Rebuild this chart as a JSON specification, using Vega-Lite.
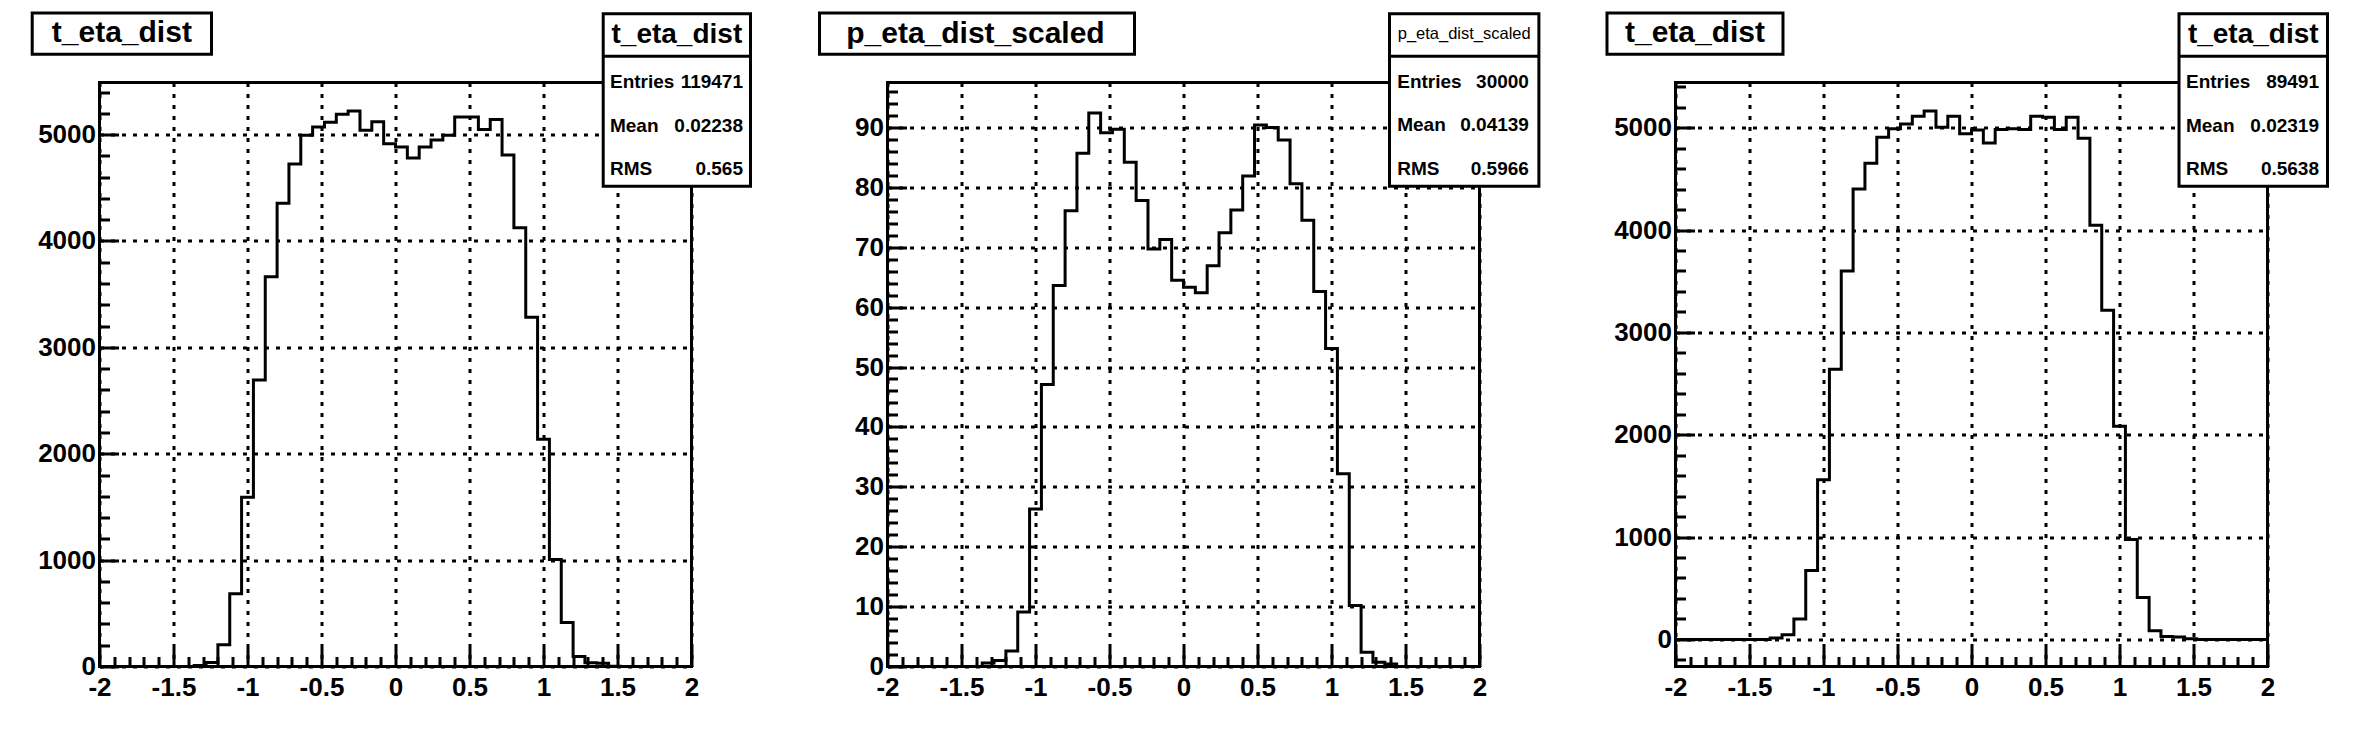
{
  "$schema": "https://vega.github.io/schema/vega-lite/v6.json",
  "background": "white",
  "padding": {"left": 28.5, "top": 9.5, "right": 5, "bottom": 5},
  "config": {
    "view": {"stroke": "black", "strokeWidth": 3},
    "font": "Liberation Sans"
  },
  "datasets": {
    "h1": [
      {"lo": -2, "n": 0}, {"lo": -1.92, "n": 0}, {"lo": -1.84, "n": 0}, {"lo": -1.76, "n": 0}, {"lo": -1.68, "n": 0},
      {"lo": -1.6, "n": 0}, {"lo": -1.52, "n": 0}, {"lo": -1.44, "n": 0}, {"lo": -1.36, "n": 10}, {"lo": -1.28, "n": 38},
      {"lo": -1.2, "n": 205}, {"lo": -1.12, "n": 684}, {"lo": -1.04, "n": 1590}, {"lo": -0.96, "n": 2694}, {"lo": -0.88, "n": 3664},
      {"lo": -0.8, "n": 4356}, {"lo": -0.72, "n": 4723}, {"lo": -0.64, "n": 4995}, {"lo": -0.56, "n": 5071}, {"lo": -0.48, "n": 5116},
      {"lo": -0.4, "n": 5192}, {"lo": -0.32, "n": 5223}, {"lo": -0.24, "n": 5040}, {"lo": -0.16, "n": 5120}, {"lo": -0.08, "n": 4915},
      {"lo": 0, "n": 4884}, {"lo": 0.08, "n": 4781}, {"lo": 0.16, "n": 4884}, {"lo": 0.24, "n": 4950}, {"lo": 0.32, "n": 4995},
      {"lo": 0.4, "n": 5165}, {"lo": 0.48, "n": 5165}, {"lo": 0.56, "n": 5049}, {"lo": 0.64, "n": 5143}, {"lo": 0.72, "n": 4808},
      {"lo": 0.8, "n": 4124}, {"lo": 0.88, "n": 3284}, {"lo": 0.96, "n": 2136}, {"lo": 1.04, "n": 1005}, {"lo": 1.12, "n": 414},
      {"lo": 1.2, "n": 94}, {"lo": 1.28, "n": 35}, {"lo": 1.36, "n": 30}, {"lo": 1.44, "n": 3}, {"lo": 1.52, "n": 0},
      {"lo": 1.6, "n": 0}, {"lo": 1.68, "n": 0}, {"lo": 1.76, "n": 0}, {"lo": 1.84, "n": 0}, {"lo": 1.92, "n": 0},
      {"lo": 2, "n": 0}
    ],
    "h2": [
      {"lo": -2, "n": 0}, {"lo": -1.92, "n": 0}, {"lo": -1.84, "n": 0}, {"lo": -1.76, "n": 0}, {"lo": -1.68, "n": 0},
      {"lo": -1.6, "n": 0}, {"lo": -1.52, "n": 0}, {"lo": -1.44, "n": 0}, {"lo": -1.36, "n": 0.6}, {"lo": -1.28, "n": 1.0},
      {"lo": -1.2, "n": 2.6}, {"lo": -1.12, "n": 9.1}, {"lo": -1.04, "n": 26.3}, {"lo": -0.96, "n": 47.1}, {"lo": -0.88, "n": 63.6},
      {"lo": -0.8, "n": 76.1}, {"lo": -0.72, "n": 85.7}, {"lo": -0.64, "n": 92.4}, {"lo": -0.56, "n": 89.1}, {"lo": -0.48, "n": 89.7},
      {"lo": -0.4, "n": 84.2}, {"lo": -0.32, "n": 77.8}, {"lo": -0.24, "n": 69.7}, {"lo": -0.16, "n": 71.3}, {"lo": -0.08, "n": 64.5},
      {"lo": 0, "n": 63.3}, {"lo": 0.08, "n": 62.4}, {"lo": 0.16, "n": 66.9}, {"lo": 0.24, "n": 72.4}, {"lo": 0.32, "n": 76.2},
      {"lo": 0.4, "n": 81.9}, {"lo": 0.48, "n": 90.4}, {"lo": 0.56, "n": 90.0}, {"lo": 0.64, "n": 87.9}, {"lo": 0.72, "n": 80.6},
      {"lo": 0.8, "n": 74.5}, {"lo": 0.88, "n": 62.6}, {"lo": 0.96, "n": 53.1}, {"lo": 1.04, "n": 32.2}, {"lo": 1.12, "n": 10.2},
      {"lo": 1.2, "n": 2.4}, {"lo": 1.28, "n": 0.7}, {"lo": 1.36, "n": 0.4}, {"lo": 1.44, "n": 0}, {"lo": 1.52, "n": 0},
      {"lo": 1.6, "n": 0}, {"lo": 1.68, "n": 0}, {"lo": 1.76, "n": 0}, {"lo": 1.84, "n": 0}, {"lo": 1.92, "n": 0},
      {"lo": 2, "n": 0}
    ],
    "h3": [
      {"lo": -2, "n": 0}, {"lo": -1.92, "n": 0}, {"lo": -1.84, "n": 0}, {"lo": -1.76, "n": 0}, {"lo": -1.68, "n": 0},
      {"lo": -1.6, "n": 0}, {"lo": -1.52, "n": 0}, {"lo": -1.44, "n": 0}, {"lo": -1.36, "n": 13}, {"lo": -1.28, "n": 45},
      {"lo": -1.2, "n": 200}, {"lo": -1.12, "n": 672}, {"lo": -1.04, "n": 1561}, {"lo": -0.96, "n": 2640}, {"lo": -0.88, "n": 3601},
      {"lo": -0.8, "n": 4401}, {"lo": -0.72, "n": 4652}, {"lo": -0.64, "n": 4907}, {"lo": -0.56, "n": 4991}, {"lo": -0.48, "n": 5037},
      {"lo": -0.4, "n": 5112}, {"lo": -0.32, "n": 5163}, {"lo": -0.24, "n": 5005}, {"lo": -0.16, "n": 5112}, {"lo": -0.08, "n": 4940},
      {"lo": 0, "n": 4977}, {"lo": 0.08, "n": 4851}, {"lo": 0.16, "n": 4982}, {"lo": 0.24, "n": 4991}, {"lo": 0.32, "n": 4982},
      {"lo": 0.4, "n": 5112}, {"lo": 0.48, "n": 5102}, {"lo": 0.56, "n": 4982}, {"lo": 0.64, "n": 5102}, {"lo": 0.72, "n": 4898},
      {"lo": 0.8, "n": 4048}, {"lo": 0.88, "n": 3216}, {"lo": 0.96, "n": 2082}, {"lo": 1.04, "n": 976}, {"lo": 1.12, "n": 409},
      {"lo": 1.2, "n": 84}, {"lo": 1.28, "n": 28}, {"lo": 1.36, "n": 23}, {"lo": 1.44, "n": 5}, {"lo": 1.52, "n": 0},
      {"lo": 1.6, "n": 0}, {"lo": 1.68, "n": 0}, {"lo": 1.76, "n": 0}, {"lo": 1.84, "n": 0}, {"lo": 1.92, "n": 0},
      {"lo": 2, "n": 0}
    ],
    "one": [{}]
  },
  "hconcat": [
    {
      "width": 592, "height": 584,
      "resolve": {"scale": {"x": "independent", "y": "independent"}},
      "layer": [
        {
          "data": {"name": "h1"},
          "mark": {"type": "line", "interpolate": "step-after", "stroke": "black", "strokeWidth": 3},
          "encoding": {
            "x": {"field": "lo", "type": "quantitative", "scale": {"domain": [-2, 2], "nice": false, "zero": false},
              "axis": {"title": null, "domain": false, "values": [-2,-1.9,-1.8,-1.7,-1.6,-1.5,-1.4,-1.3,-1.2,-1.1,-1,-0.9,-0.8,-0.7,-0.6,-0.5,-0.4,-0.3,-0.2,-0.1,0,0.1,0.2,0.3,0.4,0.5,0.6,0.7,0.8,0.9,1,1.1,1.2,1.3,1.4,1.5,1.6,1.7,1.8,1.9,2],
                "labelExpr": "abs(datum.value*2 - round(datum.value*2)) < 0.001 ? toString(datum.value) : ''",
                "tickSize": {"condition": {"test": "abs(datum.value*2 - round(datum.value*2)) < 0.001", "value": -19}, "value": -10},
                "tickColor": "black", "tickWidth": 3,
                "grid": true, "gridColor": "black", "gridDash": [4, 7], "gridWidth": 3,
                "gridOpacity": {"condition": {"test": "abs(datum.value*2 - round(datum.value*2)) < 0.001", "value": 1}, "value": 0},
                "labelFont": "Liberation Sans", "labelFontWeight": "bold", "labelFontSize": 26, "labelColor": "black",
                "labelPadding": 27, "labelFlush": false, "labelOverlap": false, "labelBound": false}},
            "y": {"field": "n", "type": "quantitative", "scale": {"domain": [0, 5490], "nice": false, "zero": false},
              "axis": {"title": null, "domain": false, "values": [0,200,400,600,800,1000,1200,1400,1600,1800,2000,2200,2400,2600,2800,3000,3200,3400,3600,3800,4000,4200,4400,4600,4800,5000,5200,5400],
                "labelExpr": "datum.value % 1000 == 0 ? toString(datum.value) : ''",
                "tickSize": {"condition": {"test": "datum.value % 1000 == 0", "value": -19}, "value": -10},
                "tickColor": "black", "tickWidth": 3,
                "grid": true, "gridColor": "black", "gridDash": [4, 7], "gridWidth": 3,
                "gridOpacity": {"condition": {"test": "datum.value % 1000 == 0", "value": 1}, "value": 0},
                "labelFont": "Liberation Sans", "labelFontWeight": "bold", "labelFontSize": 26, "labelColor": "black",
                "labelPadding": 23, "labelOverlap": false, "labelBound": false}}
          }
        },
        {
          "data": {"name": "one"},
          "layer": [
            {"mark": {"type": "rect", "fill": "white", "stroke": "black", "strokeWidth": 3},
             "encoding": {
               "x": {"datum": 0.03809, "type": "quantitative", "scale": {"domain": [0.12353, 0.87511], "nice": false, "zero": false}, "axis": null},
               "x2": {"datum": 0.26572},
               "y": {"datum": 0.98525, "type": "quantitative", "scale": {"domain": [0.10925, 0.89209], "nice": false, "zero": false}, "axis": null},
               "y2": {"datum": 0.92989}}},
            {"mark": {"type": "text", "font": "Liberation Sans", "fontWeight": "bold", "fontSize": 30, "align": "center", "baseline": "alphabetic", "color": "black"},
             "encoding": {"x": {"datum": 0.1519, "type": "quantitative"}, "y": {"datum": 0.94571, "type": "quantitative"}, "text": {"value": "t_eta_dist"}}},
            {"mark": {"type": "rect", "fill": "white", "stroke": "black", "strokeWidth": 3},
             "encoding": {"x": {"datum": 0.76301, "type": "quantitative"}, "x2": {"datum": 0.95002}, "y": {"datum": 0.98432, "type": "quantitative"}, "y2": {"datum": 0.75295}}},
            {"mark": {"type": "rule", "stroke": "black", "strokeWidth": 3},
             "encoding": {"x": {"datum": 0.76301, "type": "quantitative"}, "x2": {"datum": 0.95002}, "y": {"datum": 0.92721, "type": "quantitative"}}},
            {"mark": {"type": "text", "font": "Liberation Sans", "fontWeight": "bold", "fontSize": 28, "align": "center", "baseline": "alphabetic", "color": "black"},
             "encoding": {"x": {"datum": 0.85652, "type": "quantitative"}, "y": {"datum": 0.94544, "type": "quantitative"}, "text": {"value": "t_eta_dist"}}},
            {"mark": {"type": "text", "font": "Liberation Sans", "fontWeight": "bold", "fontSize": 19, "align": "left", "baseline": "alphabetic", "lineHeight": 43.6, "color": "black"},
             "encoding": {"x": {"datum": 0.7716, "type": "quantitative"}, "y": {"datum": 0.88472, "type": "quantitative"}, "text": {"value": ["Entries", "Mean", "RMS"]}}},
            {"mark": {"type": "text", "font": "Liberation Sans", "fontWeight": "bold", "fontSize": 19, "align": "right", "baseline": "alphabetic", "lineHeight": 43.6, "color": "black"},
             "encoding": {"x": {"datum": 0.9405, "type": "quantitative"}, "y": {"datum": 0.88472, "type": "quantitative"}, "text": {"value": ["119471", "0.02238", "0.565"]}}}
          ]
        }
      ]
    },
    {
      "width": 592, "height": 584,
      "resolve": {"scale": {"x": "independent", "y": "independent"}},
      "layer": [
        {
          "data": {"name": "h2"},
          "mark": {"type": "line", "interpolate": "step-after", "stroke": "black", "strokeWidth": 3},
          "encoding": {
            "x": {"field": "lo", "type": "quantitative", "scale": {"domain": [-2, 2], "nice": false, "zero": false},
              "axis": {"title": null, "domain": false, "values": [-2,-1.9,-1.8,-1.7,-1.6,-1.5,-1.4,-1.3,-1.2,-1.1,-1,-0.9,-0.8,-0.7,-0.6,-0.5,-0.4,-0.3,-0.2,-0.1,0,0.1,0.2,0.3,0.4,0.5,0.6,0.7,0.8,0.9,1,1.1,1.2,1.3,1.4,1.5,1.6,1.7,1.8,1.9,2],
                "labelExpr": "abs(datum.value*2 - round(datum.value*2)) < 0.001 ? toString(datum.value) : ''",
                "tickSize": {"condition": {"test": "abs(datum.value*2 - round(datum.value*2)) < 0.001", "value": -19}, "value": -10},
                "tickColor": "black", "tickWidth": 3,
                "grid": true, "gridColor": "black", "gridDash": [4, 7], "gridWidth": 3,
                "gridOpacity": {"condition": {"test": "abs(datum.value*2 - round(datum.value*2)) < 0.001", "value": 1}, "value": 0},
                "labelFont": "Liberation Sans", "labelFontWeight": "bold", "labelFontSize": 26, "labelColor": "black",
                "labelPadding": 27, "labelFlush": false, "labelOverlap": false, "labelBound": false}},
            "y": {"field": "n", "type": "quantitative", "scale": {"domain": [0, 97.5], "nice": false, "zero": false},
              "axis": {"title": null, "domain": false, "values": [0,2,4,6,8,10,12,14,16,18,20,22,24,26,28,30,32,34,36,38,40,42,44,46,48,50,52,54,56,58,60,62,64,66,68,70,72,74,76,78,80,82,84,86,88,90,92,94,96],
                "labelExpr": "datum.value % 10 == 0 ? toString(datum.value) : ''",
                "tickSize": {"condition": {"test": "datum.value % 10 == 0", "value": -19}, "value": -10},
                "tickColor": "black", "tickWidth": 3,
                "grid": true, "gridColor": "black", "gridDash": [4, 7], "gridWidth": 3,
                "gridOpacity": {"condition": {"test": "datum.value % 10 == 0", "value": 1}, "value": 0},
                "labelFont": "Liberation Sans", "labelFontWeight": "bold", "labelFontSize": 26, "labelColor": "black",
                "labelPadding": 23, "labelOverlap": false, "labelBound": false}}
          }
        },
        {
          "data": {"name": "one"},
          "layer": [
            {"mark": {"type": "rect", "fill": "white", "stroke": "black", "strokeWidth": 3},
             "encoding": {
               "x": {"datum": 0.0372, "type": "quantitative", "scale": {"domain": [0.12353, 0.87511], "nice": false, "zero": false}, "axis": null},
               "x2": {"datum": 0.43711},
               "y": {"datum": 0.98525, "type": "quantitative", "scale": {"domain": [0.10925, 0.89209], "nice": false, "zero": false}, "axis": null},
               "y2": {"datum": 0.92989}}},
            {"mark": {"type": "text", "font": "Liberation Sans", "fontWeight": "bold", "fontSize": 30, "align": "center", "baseline": "alphabetic", "color": "black"},
             "encoding": {"x": {"datum": 0.2352, "type": "quantitative"}, "y": {"datum": 0.94504, "type": "quantitative"}, "text": {"value": "p_eta_dist_scaled"}}},
            {"mark": {"type": "rect", "fill": "white", "stroke": "black", "strokeWidth": 3},
             "encoding": {"x": {"datum": 0.76085, "type": "quantitative"}, "x2": {"datum": 0.95052}, "y": {"datum": 0.98432, "type": "quantitative"}, "y2": {"datum": 0.75295}}},
            {"mark": {"type": "rule", "stroke": "black", "strokeWidth": 3},
             "encoding": {"x": {"datum": 0.76085, "type": "quantitative"}, "x2": {"datum": 0.95052}, "y": {"datum": 0.92721, "type": "quantitative"}}},
            {"mark": {"type": "text", "font": "Liberation Sans", "fontSize": 16.5, "align": "center", "baseline": "alphabetic", "color": "black"},
             "encoding": {"x": {"datum": 0.85569, "type": "quantitative"}, "y": {"datum": 0.95, "type": "quantitative"}, "text": {"value": "p_eta_dist_scaled"}}},
            {"mark": {"type": "text", "font": "Liberation Sans", "fontWeight": "bold", "fontSize": 19, "align": "left", "baseline": "alphabetic", "lineHeight": 43.3, "color": "black"},
             "encoding": {"x": {"datum": 0.77063, "type": "quantitative"}, "y": {"datum": 0.88472, "type": "quantitative"}, "text": {"value": ["Entries", "Mean", "RMS"]}}},
            {"mark": {"type": "text", "font": "Liberation Sans", "fontWeight": "bold", "fontSize": 19, "align": "right", "baseline": "alphabetic", "lineHeight": 43.3, "color": "black"},
             "encoding": {"x": {"datum": 0.93783, "type": "quantitative"}, "y": {"datum": 0.88472, "type": "quantitative"}, "text": {"value": ["30000", "0.04139", "0.5966"]}}}
          ]
        }
      ]
    },
    {
      "width": 592, "height": 584,
      "resolve": {"scale": {"x": "independent", "y": "independent"}},
      "layer": [
        {
          "data": {"name": "h3"},
          "mark": {"type": "line", "interpolate": "step-after", "stroke": "black", "strokeWidth": 3},
          "encoding": {
            "x": {"field": "lo", "type": "quantitative", "scale": {"domain": [-2, 2], "nice": false, "zero": false},
              "axis": {"title": null, "domain": false, "values": [-2,-1.9,-1.8,-1.7,-1.6,-1.5,-1.4,-1.3,-1.2,-1.1,-1,-0.9,-0.8,-0.7,-0.6,-0.5,-0.4,-0.3,-0.2,-0.1,0,0.1,0.2,0.3,0.4,0.5,0.6,0.7,0.8,0.9,1,1.1,1.2,1.3,1.4,1.5,1.6,1.7,1.8,1.9,2],
                "labelExpr": "abs(datum.value*2 - round(datum.value*2)) < 0.001 ? toString(datum.value) : ''",
                "tickSize": {"condition": {"test": "abs(datum.value*2 - round(datum.value*2)) < 0.001", "value": -19}, "value": -10},
                "tickColor": "black", "tickWidth": 3,
                "grid": true, "gridColor": "black", "gridDash": [4, 7], "gridWidth": 3,
                "gridOpacity": {"condition": {"test": "abs(datum.value*2 - round(datum.value*2)) < 0.001", "value": 1}, "value": 0},
                "labelFont": "Liberation Sans", "labelFontWeight": "bold", "labelFontSize": 26, "labelColor": "black",
                "labelPadding": 27, "labelFlush": false, "labelOverlap": false, "labelBound": false}},
            "y": {"field": "n", "type": "quantitative", "scale": {"domain": [-265, 5442], "nice": false, "zero": false},
              "axis": {"title": null, "domain": false, "values": [-200,0,200,400,600,800,1000,1200,1400,1600,1800,2000,2200,2400,2600,2800,3000,3200,3400,3600,3800,4000,4200,4400,4600,4800,5000,5200,5400],
                "labelExpr": "datum.value % 1000 == 0 ? toString(datum.value) : ''",
                "tickSize": {"condition": {"test": "datum.value % 1000 == 0", "value": -19}, "value": -10},
                "tickColor": "black", "tickWidth": 3,
                "grid": true, "gridColor": "black", "gridDash": [4, 7], "gridWidth": 3,
                "gridOpacity": {"condition": {"test": "datum.value % 1000 == 0", "value": 1}, "value": 0},
                "labelFont": "Liberation Sans", "labelFontWeight": "bold", "labelFontSize": 26, "labelColor": "black",
                "labelPadding": 23, "labelOverlap": false, "labelBound": false}}
          }
        },
        {
          "data": {"name": "one"},
          "layer": [
            {"mark": {"type": "rect", "fill": "white", "stroke": "black", "strokeWidth": 3},
             "encoding": {
               "x": {"datum": 0.03656, "type": "quantitative", "scale": {"domain": [0.12353, 0.87511], "nice": false, "zero": false}, "axis": null},
               "x2": {"datum": 0.26},
               "y": {"datum": 0.98525, "type": "quantitative", "scale": {"domain": [0.10925, 0.89209], "nice": false, "zero": false}, "axis": null},
               "y2": {"datum": 0.92989}}},
            {"mark": {"type": "text", "font": "Liberation Sans", "fontWeight": "bold", "fontSize": 30, "align": "center", "baseline": "alphabetic", "color": "black"},
             "encoding": {"x": {"datum": 0.1483, "type": "quantitative"}, "y": {"datum": 0.94571, "type": "quantitative"}, "text": {"value": "t_eta_dist"}}},
            {"mark": {"type": "rect", "fill": "white", "stroke": "black", "strokeWidth": 3},
             "encoding": {"x": {"datum": 0.76276, "type": "quantitative"}, "x2": {"datum": 0.95129}, "y": {"datum": 0.98432, "type": "quantitative"}, "y2": {"datum": 0.75295}}},
            {"mark": {"type": "rule", "stroke": "black", "strokeWidth": 3},
             "encoding": {"x": {"datum": 0.76276, "type": "quantitative"}, "x2": {"datum": 0.95129}, "y": {"datum": 0.92721, "type": "quantitative"}}},
            {"mark": {"type": "text", "font": "Liberation Sans", "fontWeight": "bold", "fontSize": 28, "align": "center", "baseline": "alphabetic", "color": "black"},
             "encoding": {"x": {"datum": 0.85702, "type": "quantitative"}, "y": {"datum": 0.94544, "type": "quantitative"}, "text": {"value": "t_eta_dist"}}},
            {"mark": {"type": "text", "font": "Liberation Sans", "fontWeight": "bold", "fontSize": 19, "align": "left", "baseline": "alphabetic", "lineHeight": 43.6, "color": "black"},
             "encoding": {"x": {"datum": 0.7716, "type": "quantitative"}, "y": {"datum": 0.88472, "type": "quantitative"}, "text": {"value": ["Entries", "Mean", "RMS"]}}},
            {"mark": {"type": "text", "font": "Liberation Sans", "fontWeight": "bold", "fontSize": 19, "align": "right", "baseline": "alphabetic", "lineHeight": 43.6, "color": "black"},
             "encoding": {"x": {"datum": 0.9405, "type": "quantitative"}, "y": {"datum": 0.88472, "type": "quantitative"}, "text": {"value": ["89491", "0.02319", "0.5638"]}}}
          ]
        }
      ]
    }
  ],
  "spacing": 196,
  "bounds": "flush"
}
